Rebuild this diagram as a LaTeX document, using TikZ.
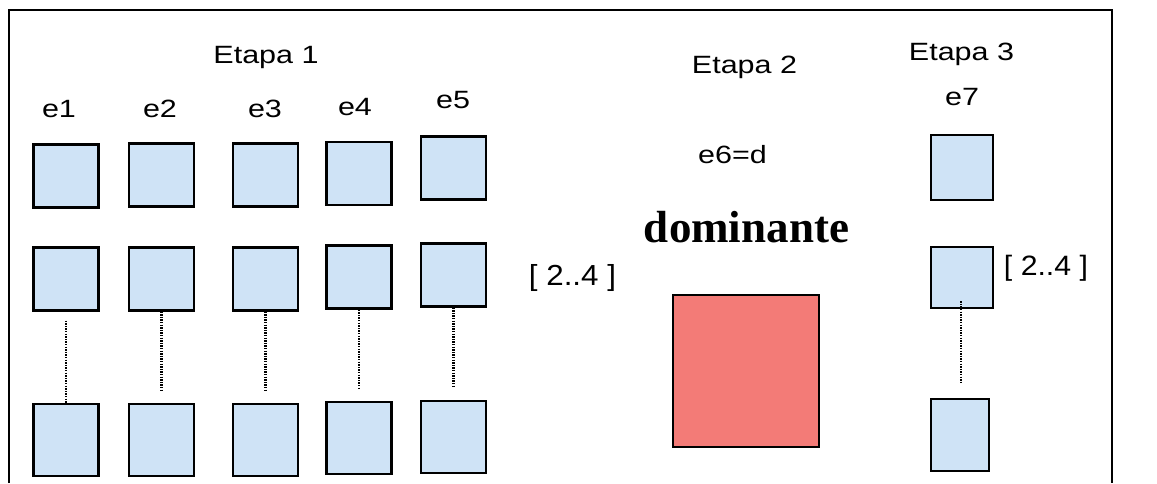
\documentclass[tikz,border=0pt]{standalone}
\usepackage{fontspec}
\setmainfont{Liberation Serif}
\setsansfont{Liberation Sans}
\newfontfamily\lblfont[FakeStretch=1.22]{Liberation Sans}
\newfontfamily\rngfont[FakeStretch=1.08]{Liberation Sans}
\usetikzlibrary{calc}
\definecolor{cellblue}{HTML}{CFE3F6}
\definecolor{domred}{HTML}{F37B77}
\begin{document}
\begin{tikzpicture}[x=1pt,y=-1pt,
  cell/.style={draw=black, line width=2.2pt, fill=cellblue, inner sep=0pt,
               minimum width=65pt, minimum height=63pt},
  tallcell/.style={cell, minimum height=72pt},
  domcell/.style={draw=black, line width=2.2pt, fill=domred, inner sep=0pt,
                  minimum width=146pt, minimum height=152pt},
  link/.style={line width=2.6pt, dash pattern=on 1.4pt off 1.2pt},
  stage/.style={anchor=base, inner sep=0pt, font=\lblfont\fontsize{25}{30}\selectfont},
  elab/.style={anchor=base, inner sep=0pt, font=\lblfont\fontsize{25}{30}\selectfont},
  rangelab/.style={anchor=base, inner sep=0pt, font=\rngfont\fontsize{29}{34}\selectfont},
  bigword/.style={anchor=base, inner sep=0pt, font=\bfseries\fontsize{45}{50}\selectfont}]

  \useasboundingbox (0,0) rectangle (1157,483);

  % outer frame (open at the bottom)
  \draw[line width=2pt] (9,483) -- (9,10) -- (1112,10) -- (1112,483);

  % stage 1: five columns of three cells each
  \foreach \n/\x/\ya/\yb/\yc in {1/66/176/279/440, 2/161.5/175/279/440,
      3/265.5/175/279/440, 4/359/173.5/277/438, 5/453.5/168/275/437}{
    \node[cell] (a\n) at (\x,\ya) {};
    \node[cell] (b\n) at (\x,\yb) {};
    \node[tallcell] (c\n) at (\x,\yc) {};
  }
  \draw[link] ($(b1.south)+(0,9)$) -- (c1.north);
  \foreach \n in {2,3,4,5}{
    \draw[link] (b\n.south) -- ($(c\n.north)+(0,-13)$);
  }

  % stage 3: one column
  \node[cell, minimum width=62pt, minimum height=65pt] (a7) at (962,167.5) {};
  \node[cell, minimum width=62pt, minimum height=61pt] (b7) at (962,277.5) {};
  \node[tallcell, minimum width=58pt] (c7) at (960,435) {};
  \draw[link] ($(b7.south)+(-1,-8)$) -- ($(b7.south |- c7.north)+(-1,-14)$);

  % stage 2: dominant cell
  \node[domcell] (dom) at (746,371) {};

  % labels
  \node[stage] (s1) at (266,63) {Etapa 1};
  \node[stage] (s2) at (744.5,73) {Etapa 2};
  \node[stage] (s3) at (961.5,60) {Etapa 3};

  \node[elab] (l1) at (59,117) {e1};
  \node[elab] (l2) at (160,117) {e2};
  \node[elab] (l3) at (265,117) {e3};
  \node[elab] (l4) at (355,115) {e4};
  \node[elab] (l5) at (453,108) {e5};
  \node[elab] (l7) at (962,105) {e7};
  \node[elab] (l6) at (732.5,163) {e6=d};

  \node[bigword] (dw) at (746.5,242) {dominante};

  \node[rangelab] (r1) at (572.5,285) {[ 2..4 ]};
  \node[rangelab, font=\rngfont\fontsize{28}{33}\selectfont] (r2) at (1046,275) {[ 2..4 ]};
\end{tikzpicture}
\end{document}
